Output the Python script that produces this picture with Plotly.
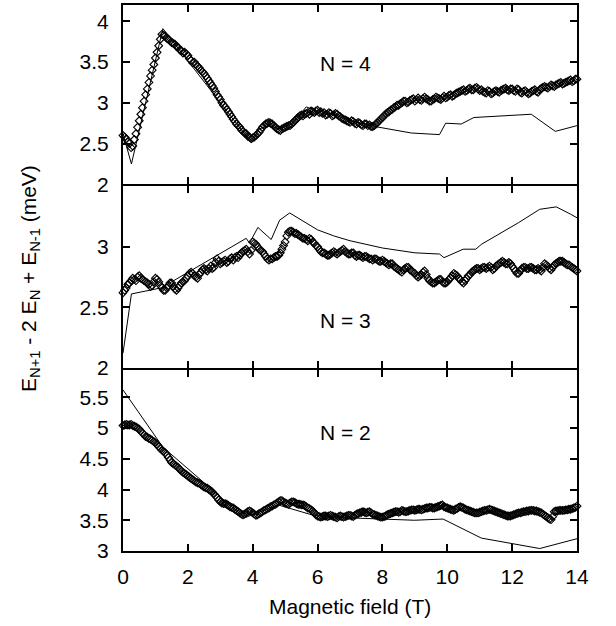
"""Addition energy spectra E(N+1) - 2E(N) + E(N-1) vs magnetic field, three panels."""

import numpy as np
import plotly.graph_objects as go
from plotly.subplots import make_subplots

# measured field grid (T), one point every 0.05 T
field = np.round(np.arange(0, 281) * 0.05, 2)

# measured data, N = 4 (top panel)
meas_n4 = [
    2.60, 2.58, 2.56, 2.52, 2.50, 2.45, 2.47, 2.55, 2.62, 2.70,
    2.78, 2.86, 2.94, 3.02, 3.10, 3.17, 3.25, 3.33, 3.40, 3.47,
    3.55, 3.62, 3.70, 3.78, 3.84, 3.83, 3.82, 3.79, 3.78, 3.76,
    3.74, 3.73, 3.72, 3.69, 3.68, 3.65, 3.64, 3.61, 3.62, 3.60,
    3.58, 3.54, 3.52, 3.49, 3.50, 3.47, 3.45, 3.43, 3.40, 3.38,
    3.36, 3.33, 3.30, 3.27, 3.24, 3.21, 3.18, 3.14, 3.10, 3.07,
    3.04, 3.00, 2.97, 2.95, 2.92, 2.89, 2.86, 2.83, 2.80, 2.77,
    2.74, 2.72, 2.70, 2.67, 2.65, 2.63, 2.62, 2.59, 2.58, 2.56,
    2.57, 2.58, 2.60, 2.62, 2.64, 2.67, 2.70, 2.72, 2.74, 2.75,
    2.76, 2.75, 2.74, 2.72, 2.70, 2.68, 2.67, 2.66, 2.68, 2.69,
    2.70, 2.71, 2.72, 2.72, 2.74, 2.76, 2.78, 2.80, 2.82, 2.84,
    2.85, 2.84, 2.86, 2.87, 2.88, 2.86, 2.90, 2.89, 2.88, 2.90,
    2.91, 2.88, 2.89, 2.87, 2.88, 2.85, 2.86, 2.88, 2.87, 2.84,
    2.85, 2.87, 2.86, 2.84, 2.83, 2.81, 2.80, 2.79, 2.78, 2.77,
    2.76, 2.78, 2.77, 2.75, 2.74, 2.76, 2.75, 2.73, 2.72, 2.74,
    2.74, 2.72, 2.73, 2.71, 2.71, 2.72, 2.74, 2.76, 2.78, 2.80,
    2.82, 2.84, 2.86, 2.88, 2.89, 2.91, 2.92, 2.94, 2.95, 2.97,
    2.97, 2.99, 3.00, 3.02, 3.02, 3.00, 3.01, 3.03, 3.04, 3.05,
    3.02, 3.04, 3.06, 3.04, 3.03, 3.05, 3.07, 3.05, 3.04, 3.02,
    3.02, 3.04, 3.05, 3.07, 3.06, 3.05, 3.04, 3.06, 3.08, 3.06,
    3.07, 3.09, 3.10, 3.08, 3.09, 3.11, 3.12, 3.13, 3.14, 3.15,
    3.16, 3.14, 3.15, 3.17, 3.18, 3.16, 3.16, 3.18, 3.19, 3.17,
    3.15, 3.16, 3.14, 3.13, 3.12, 3.15, 3.14, 3.11, 3.12, 3.14,
    3.15, 3.14, 3.13, 3.15, 3.16, 3.17, 3.18, 3.16, 3.15, 3.17,
    3.17, 3.15, 3.14, 3.17, 3.16, 3.13, 3.12, 3.14, 3.15, 3.13,
    3.11, 3.12, 3.14, 3.15, 3.16, 3.14, 3.13, 3.16, 3.18, 3.19,
    3.20, 3.19, 3.18, 3.20, 3.22, 3.21, 3.20, 3.22, 3.23, 3.24,
    3.25, 3.23, 3.24, 3.25, 3.26, 3.27, 3.28, 3.26, 3.27, 3.29,
    3.29,
]

# measured data, N = 3 (middle panel)
meas_n3 = [
    2.62, 2.64, 2.66, 2.69, 2.70, 2.72, 2.74, 2.73, 2.72, 2.75,
    2.76, 2.74, 2.73, 2.72, 2.71, 2.70, 2.69, 2.67, 2.68, 2.71,
    2.74, 2.73, 2.71, 2.68, 2.66, 2.64, 2.64, 2.66, 2.68, 2.70,
    2.70, 2.67, 2.65, 2.64, 2.66, 2.68, 2.70, 2.71, 2.72, 2.74,
    2.76, 2.78, 2.79, 2.78, 2.76, 2.75, 2.74, 2.77, 2.79, 2.81,
    2.82, 2.81, 2.80, 2.82, 2.84, 2.82, 2.83, 2.87, 2.90, 2.88,
    2.86, 2.87, 2.88, 2.89, 2.87, 2.88, 2.90, 2.91, 2.89, 2.91,
    2.92, 2.91, 2.93, 2.95, 2.96, 2.97, 2.98, 2.96, 2.94, 2.97,
    3.04, 3.03, 3.02, 3.00, 2.98, 2.97, 2.96, 2.94, 2.92, 2.90,
    2.89, 2.90, 2.90, 2.91, 2.92, 2.92, 2.93, 2.95, 2.98, 3.01,
    3.04, 3.09, 3.12, 3.13, 3.13, 3.12, 3.11, 3.11, 3.10, 3.09,
    3.08, 3.07, 3.07, 3.06, 3.05, 3.07, 3.06, 3.04, 3.03, 3.01,
    3.00, 2.98, 2.96, 2.95, 2.95, 2.94, 2.93, 2.93, 2.94, 2.95,
    2.96, 2.95, 2.94, 2.95, 2.96, 2.97, 2.98, 2.96, 2.95, 2.94,
    2.94, 2.95, 2.95, 2.93, 2.92, 2.93, 2.93, 2.92, 2.91, 2.92,
    2.92, 2.91, 2.90, 2.90, 2.89, 2.90, 2.90, 2.89, 2.88, 2.88,
    2.89, 2.88, 2.87, 2.86, 2.85, 2.86, 2.86, 2.84, 2.83, 2.82,
    2.81, 2.80, 2.79, 2.81, 2.82, 2.83, 2.83, 2.81, 2.80, 2.79,
    2.78, 2.76, 2.75, 2.76, 2.77, 2.79, 2.80, 2.77, 2.74, 2.72,
    2.71, 2.70, 2.70, 2.71, 2.72, 2.73, 2.73, 2.71, 2.70, 2.70,
    2.71, 2.73, 2.74, 2.76, 2.78, 2.77, 2.76, 2.74, 2.73, 2.71,
    2.70, 2.72, 2.74, 2.76, 2.77, 2.79, 2.80, 2.81, 2.82, 2.82,
    2.81, 2.82, 2.83, 2.83, 2.82, 2.83, 2.84, 2.83, 2.81, 2.82,
    2.84, 2.85, 2.86, 2.87, 2.88, 2.87, 2.86, 2.86, 2.87, 2.86,
    2.84, 2.82, 2.80, 2.78, 2.78, 2.80, 2.82, 2.83, 2.83, 2.82,
    2.82, 2.83, 2.83, 2.82, 2.81, 2.81, 2.82, 2.81, 2.80, 2.83,
    2.86, 2.85, 2.84, 2.82, 2.81, 2.83, 2.85, 2.86, 2.87, 2.88,
    2.88, 2.88, 2.87, 2.86, 2.85, 2.85, 2.84, 2.83, 2.82, 2.81,
    2.80,
]

# measured data, N = 2 (bottom panel)
meas_n2 = [
    5.04, 5.05, 5.06, 5.05, 5.05, 5.06, 5.04, 5.03, 5.02, 5.00,
    4.98, 4.95, 4.92, 4.89, 4.86, 4.85, 4.83, 4.82, 4.80, 4.78,
    4.76, 4.73, 4.70, 4.67, 4.64, 4.62, 4.60, 4.56, 4.52, 4.48,
    4.44, 4.42, 4.40, 4.38, 4.36, 4.33, 4.30, 4.28, 4.26, 4.24,
    4.22, 4.20, 4.18, 4.16, 4.14, 4.12, 4.11, 4.10, 4.08, 4.06,
    4.04, 4.03, 4.02, 4.00, 3.98, 3.96, 3.93, 3.90, 3.87, 3.83,
    3.80, 3.78, 3.77, 3.77, 3.76, 3.74, 3.72, 3.71, 3.70, 3.68,
    3.66, 3.64, 3.62, 3.60, 3.59, 3.60, 3.62, 3.64, 3.65, 3.64,
    3.62, 3.60, 3.58, 3.59, 3.61, 3.62, 3.64, 3.66, 3.67, 3.69,
    3.70, 3.72, 3.73, 3.75, 3.76, 3.78, 3.80, 3.82, 3.82, 3.80,
    3.78, 3.77, 3.76, 3.78, 3.80, 3.80, 3.79, 3.77, 3.76, 3.76,
    3.75, 3.75, 3.74, 3.72, 3.70, 3.69, 3.67, 3.65, 3.62, 3.59,
    3.57, 3.56, 3.55, 3.56, 3.57, 3.57, 3.56, 3.57, 3.58, 3.57,
    3.56, 3.55, 3.54, 3.56, 3.57, 3.56, 3.55, 3.56, 3.57, 3.58,
    3.58, 3.57, 3.56, 3.58, 3.60, 3.61, 3.62, 3.63, 3.64, 3.63,
    3.62, 3.63, 3.64, 3.62, 3.60, 3.59, 3.58, 3.57, 3.56, 3.55,
    3.55, 3.56, 3.57, 3.59, 3.60, 3.61, 3.62, 3.63, 3.64, 3.64,
    3.63, 3.64, 3.66, 3.65, 3.64, 3.64, 3.65, 3.66, 3.67, 3.67,
    3.66, 3.67, 3.68, 3.68, 3.67, 3.68, 3.69, 3.70, 3.70, 3.71,
    3.71, 3.70, 3.70, 3.71, 3.72, 3.73, 3.74, 3.75, 3.72, 3.71,
    3.70, 3.69, 3.68, 3.67, 3.66, 3.68, 3.69, 3.71, 3.72, 3.71,
    3.70, 3.68, 3.67, 3.66, 3.65, 3.64, 3.63, 3.62, 3.62, 3.62,
    3.63, 3.64, 3.65, 3.66, 3.66, 3.67, 3.68, 3.67, 3.66, 3.65,
    3.64, 3.63, 3.62, 3.61, 3.60, 3.59, 3.58, 3.57, 3.57, 3.57,
    3.58, 3.59, 3.60, 3.61, 3.62, 3.62, 3.63, 3.64, 3.64, 3.65,
    3.65, 3.66, 3.66, 3.66, 3.65, 3.65, 3.64, 3.63, 3.62, 3.60,
    3.58, 3.56, 3.54, 3.52, 3.51, 3.56, 3.64, 3.65, 3.65, 3.66,
    3.66, 3.66, 3.66, 3.67, 3.67, 3.68, 3.68, 3.69, 3.70, 3.71,
    3.73,
]

# calculated curves (vertices of the solid lines)
calc_n4_b = [0, 0.26, 1.23, 3.96, 4.2, 4.5, 4.8, 5.2, 5.65, 6.0, 6.5, 7.0, 7.76,
             8.89, 9.76, 9.95, 10.43, 10.82, 12.59, 13.33, 14.0]
calc_n4_e = [2.62, 2.25, 3.91, 2.51, 2.68, 2.72, 2.68, 2.74, 2.95, 2.90, 2.86, 2.78, 2.71,
             2.63, 2.61, 2.75, 2.74, 2.82, 2.86, 2.65, 2.72]

calc_n3_b = [0, 0.26, 1.18, 3.8, 3.9, 4.16, 4.57, 4.83, 5.14, 5.5, 6.0, 6.5, 7.0,
             8.0, 9.0, 9.76, 9.9, 10.49, 10.88, 11.05, 12.2, 12.85, 13.36, 13.8, 14.0]
calc_n3_e = [2.12, 2.61, 2.66, 3.07, 3.03, 3.16, 3.06, 3.22, 3.28, 3.22, 3.14, 3.09, 3.05,
             2.99, 2.95, 2.94, 2.91, 2.98, 2.98, 3.02, 3.20, 3.31, 3.33, 3.27, 3.24]

calc_n2_b = [0, 1.23, 3.75, 4.78, 5.81, 6.94, 8.99, 9.87, 11.05, 12.85, 14.0]
calc_n2_e = [5.62, 4.69, 3.54, 3.75, 3.59, 3.54, 3.50, 3.52, 3.21, 3.04, 3.20]

panel_labels = ["N = 4", "N = 3", "N = 2"]
y_ranges = [[2, 4.2], [2, 3.5], [3, 5.95]]
y_ticks = [[2, 2.5, 3, 3.5, 4], [2, 2.5, 3], [3, 3.5, 4, 4.5, 5, 5.5]]
x_ticks = [0, 2, 4, 6, 8, 10, 12, 14]

FONT = "Liberation Sans, Arial, sans-serif"

fig = make_subplots(rows=3, cols=1, shared_xaxes=True, vertical_spacing=0)

panels = [
    (meas_n4, calc_n4_b, calc_n4_e),
    (meas_n3, calc_n3_b, calc_n3_e),
    (meas_n2, calc_n2_b, calc_n2_e),
]
for i, (meas, cb, ce) in enumerate(panels, start=1):
    fig.add_trace(go.Scatter(x=cb, y=ce, mode="lines",
                             line=dict(color="black", width=1),
                             showlegend=False), row=i, col=1)
    fig.add_trace(go.Scatter(x=field, y=meas, mode="markers",
                             marker=dict(symbol="diamond-open", size=6, color="black",
                                         line=dict(width=1.1, color="black")),
                             cliponaxis=False, showlegend=False), row=i, col=1)

# small gaps between domains so the neighbouring frame lines land on the same pixels
domains = [[0.67153, 1.0], [0.33577, 0.66788], [0.0, 0.33212]]
label_y = [3.48, 2.39, 4.92]

axis_style = dict(showline=True, linecolor="black", linewidth=2, mirror="ticks",
                  ticks="inside", ticklen=7, tickwidth=1.5, tickcolor="black",
                  showgrid=False, zeroline=False,
                  tickfont=dict(family=FONT, size=21, color="black"))

for i in range(3):
    r = i + 1
    fig.update_yaxes(range=y_ranges[i], tickvals=y_ticks[i], domain=domains[i],
                     ticklabelstandoff=8, row=r, col=1, **axis_style)
    fig.update_xaxes(range=[0, 14], tickvals=x_ticks, showticklabels=(r == 3),
                     ticklabelstandoff=6, row=r, col=1, **axis_style)
    yref = "y" if r == 1 else "y%d" % r
    fig.add_annotation(x=6.0, y=label_y[i], xref="x%d" % r if r > 1 else "x", yref=yref,
                       text=panel_labels[i], showarrow=False, xanchor="left",
                       yanchor="middle",
                       font=dict(family=FONT, size=21, color="black"))

fig.add_annotation(x=0.5, y=-0.102, xref="paper", yref="paper",
                   text="Magnetic field (T)", showarrow=False,
                   xanchor="center", yanchor="middle",
                   font=dict(family=FONT, size=21, color="black"))
fig.add_annotation(x=-0.205, y=0.5, xref="paper", yref="paper", textangle=-90,
                   text="E<sub>N+1</sub> - 2 E<sub>N</sub> + E<sub>N-1</sub> (meV)",
                   showarrow=False, xanchor="center", yanchor="middle",
                   font=dict(family=FONT, size=21, color="black"))

fig.update_layout(width=616, height=626, plot_bgcolor="white", paper_bgcolor="white",
                  margin=dict(l=123, r=39, t=3, b=75))

fig.write_html("out.html", config={"displayModeBar": False},
               post_script="document.body.style.margin='0px';")
